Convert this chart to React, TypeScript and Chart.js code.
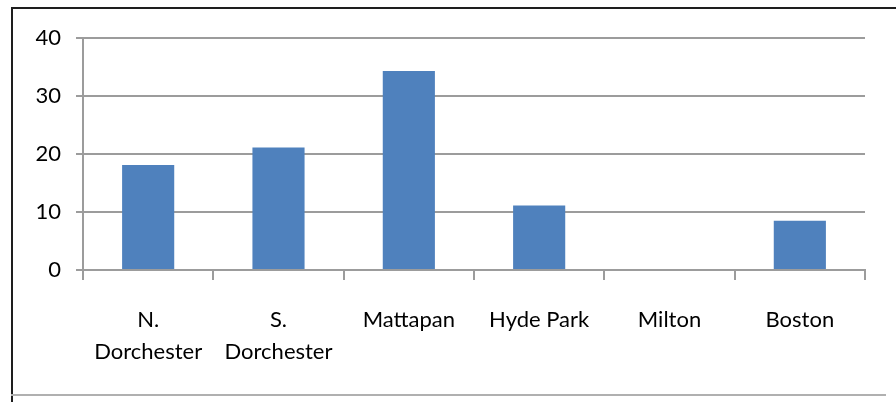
import React, { useEffect, useRef } from "react";
import { Chart, registerables } from "chart.js";

Chart.register(...registerables);

const categories: (string | string[])[] = [
  ["N.", "Dorchester"],
  ["S.", "Dorchester"],
  "Mattapan",
  "Hyde Park",
  "Milton",
  "Boston",
];
const values: number[] = [18.1, 21.1, 34.3, 11.1, 0, 8.5];
const yTicks: number[] = [0, 10, 20, 30, 40];

export default function App() {
  const ref = useRef<HTMLCanvasElement | null>(null);

  useEffect(() => {
    if (!ref.current) return;
    const family = "Lato, 'Open Sans', sans-serif";
    const chart = new Chart(ref.current, {
      type: "bar",
      data: {
        labels: categories,
        datasets: [
          {
            data: values,
            backgroundColor: "#4F81BD",
            borderWidth: 0,
            barPercentage: 0.4,
            categoryPercentage: 1,
          },
        ],
      },
      options: {
        animation: false,
        responsive: false,
        events: [],
        layout: { padding: { top: 38, right: 31, bottom: 0, left: 0 } },
        plugins: { legend: { display: false }, tooltip: { enabled: false } },
        scales: {
          x: {
            afterFit: (scale: any) => {
              scale.height = 132;
            },
            grid: {
              display: true,
              drawOnChartArea: false,
              drawTicks: true,
              tickLength: 10,
              color: "#9c9c9c",
              lineWidth: 2,
              offset: true,
            },
            border: { display: true, color: "#9c9c9c", width: 2 },
            ticks: {
              color: "#000",
              font: { family, size: 22, lineHeight: 1.45 },
              padding: 24,
              maxRotation: 0,
              autoSkip: false,
            },
          },
          y: {
            min: 0,
            max: 40,
            afterFit: (scale: any) => {
              scale.width = 83;
            },
            afterBuildTicks: (scale: any) => {
              scale.ticks = yTicks.map((v) => ({ value: v }));
            },
            grid: {
              color: "#9c9c9c",
              lineWidth: 2,
              tickLength: 7,
            },
            border: { display: true, color: "#9c9c9c", width: 2 },
            ticks: {
              color: "#000",
              font: { family, size: 22 },
              padding: 15,
              stepSize: 10,
            },
          },
        },
      },
    });
    return () => chart.destroy();
  }, []);

  return (
    <div
      style={{
        position: "fixed",
        left: 0,
        top: 0,
        width: 896,
        height: 402,
        background: "#fff",
        overflow: "hidden",
      }}
    >
      <canvas ref={ref} width={896} height={402} style={{ position: "absolute", left: 0, top: 0 }} />
      <div style={{ position: "absolute", left: 11, top: 7, width: 885, height: 2, background: "#1e1e1e" }} />
      <div style={{ position: "absolute", left: 11, top: 7, width: 2, height: 395, background: "#1e1e1e" }} />
      <div style={{ position: "absolute", left: 11, top: 394, width: 875, height: 2, background: "#b0b0b0" }} />
    </div>
  );
}
